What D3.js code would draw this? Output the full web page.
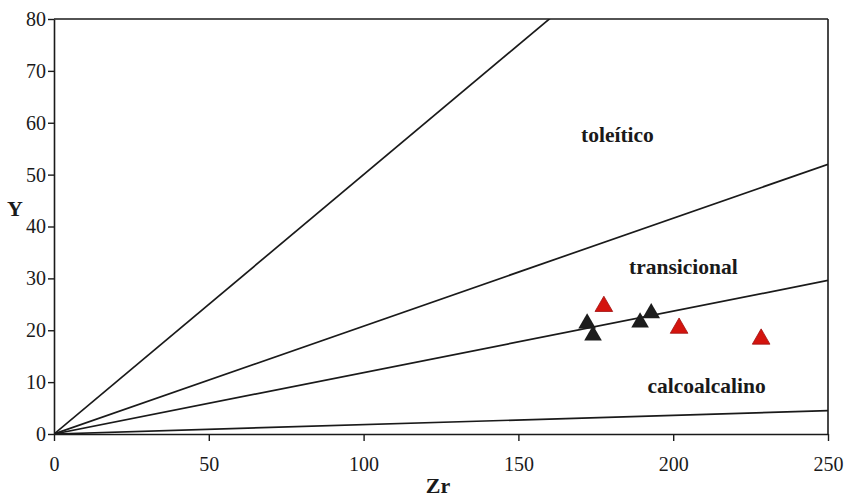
<!DOCTYPE html>
<html><head><meta charset="utf-8">
<script src="https://d3js.org/d3.v7.min.js"></script>
<style>body{margin:0;background:#fff;} svg{display:block;} text{font-family:'Liberation Serif','Times New Roman',serif;}</style>
</head><body>
<svg id="c" width="850" height="498"></svg>
<script>
const xTicks = [0, 50, 100, 150, 200, 250];
const yTicks = [0, 10, 20, 30, 40, 50, 60, 70, 80];
// discrimination lines through origin: Y value reached at Zr = 250
const lineYat250 = [125, 52, 29.6, 4.5];
const fieldLabels = ["toleítico", "transicional", "calcoalcalino"];
const fieldZr = [182, 203.3, 210.8];
const fieldY = [57.7, 32.2, 9.3];
const blackZr = [172.2, 174.1, 189.3, 192.9];
const blackY = [21.3, 19.0, 21.5, 23.3];
const redZr = [177.6, 201.9, 228.4];
const redY = [24.6, 20.4, 18.3];

const svg = d3.select("#c");
const m = {l: 54, r: 22, t: 19, b: 64};
const W = 850, H = 498;
const x = d3.scaleLinear().domain([0, 250]).range([m.l, W - m.r]);
const y = d3.scaleLinear().domain([0, 80]).range([H - m.b, m.t]);
const font = "'Liberation Serif', 'Times New Roman', serif";
const ink = "#1a1a1a";

svg.append("defs").append("clipPath").attr("id", "clip")
  .append("rect").attr("x", x(0)).attr("y", y(80)).attr("width", x(250) - x(0)).attr("height", y(0) - y(80));

const g = svg.append("g").attr("clip-path", "url(#clip)");
lineYat250.forEach(v => {
  g.append("line").attr("x1", x(0)).attr("y1", y(0)).attr("x2", x(250)).attr("y2", y(v))
    .attr("stroke", ink).attr("stroke-width", 1.7);
});

// frame top and right
svg.append("line").attr("x1", x(0)).attr("x2", x(250)).attr("y1", y(80)).attr("y2", y(80)).attr("stroke", ink).attr("stroke-width", 1.6);
svg.append("line").attr("x1", x(250)).attr("x2", x(250)).attr("y1", y(80)).attr("y2", y(0)).attr("stroke", ink).attr("stroke-width", 1.6);

// axes
const xa = svg.append("g").attr("transform", `translate(0,${y(0)})`)
  .call(d3.axisBottom(x).tickValues(xTicks).tickSize(7).tickPadding(16).tickSizeOuter(0));
const ya = svg.append("g").attr("transform", `translate(${x(0)},0)`)
  .call(d3.axisLeft(y).tickValues(yTicks).tickSize(6).tickPadding(2).tickSizeOuter(0));
[xa, ya].forEach(a => {
  a.attr("font-family", font);
  a.select(".domain").attr("stroke", ink).attr("stroke-width", 1.6);
  a.selectAll(".tick line").attr("stroke", ink).attr("stroke-width", 1.4);
  a.selectAll("text").style("font-family", font).attr("font-size", 20).attr("fill", ink);
});

// axis titles
svg.append("text").attr("x", 438).attr("y", 485).attr("dy", "0.35em").attr("text-anchor", "middle")
  .style("font-family", font).attr("font-size", 22).attr("font-weight", "bold").attr("fill", ink).text("Zr");
svg.append("text").attr("x", 15).attr("y", 208).attr("dy", "0.35em").attr("text-anchor", "middle")
  .style("font-family", font).attr("font-size", 22).attr("font-weight", "bold").attr("fill", ink).text("Y");

// field labels
fieldLabels.forEach((t, i) => {
  svg.append("text").attr("x", x(fieldZr[i])).attr("y", y(fieldY[i])).attr("dy", "0.35em")
    .attr("text-anchor", "middle").style("font-family", font).attr("font-size", 21.5)
    .attr("font-weight", "bold").attr("fill", ink).text(t);
});

// points
const tri = d3.symbol().type(d3.symbolTriangle).size(135);
blackZr.forEach((v, i) => {
  svg.append("path").attr("d", tri()).attr("transform", `translate(${x(v)},${y(blackY[i])})`)
    .attr("fill", "#1c1c1c");
});
redZr.forEach((v, i) => {
  svg.append("path").attr("d", tri()).attr("transform", `translate(${x(v)},${y(redY[i])})`)
    .attr("fill", "#d4140e").attr("stroke", "#a01010").attr("stroke-width", 0.8);
});
</script>
</body></html>
